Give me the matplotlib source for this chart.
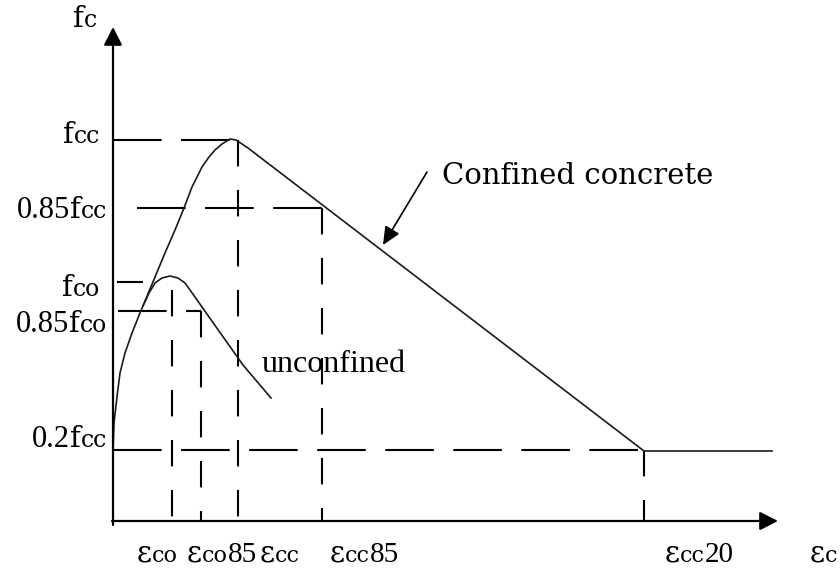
import matplotlib
matplotlib.use('Agg')
import matplotlib.pyplot as plt
from matplotlib.offsetbox import TextArea, HPacker, AnnotationBbox

plt.rcParams['lines.scale_dashes'] = False

# confined concrete curve (strain, stress) in drawing units
conf_strain = [0, 0, 1, 4, 7, 12, 19, 27, 32, 42, 52, 62, 71, 79, 89, 96, 102, 109, 117,
               123, 129, 135, 531, 659]
conf_stress = [0, 71, 98, 124, 148, 168, 188, 208, 220, 244, 268, 291, 313, 334, 354, 364, 371, 377, 382,
               381, 377, 373, 70, 70]

# unconfined concrete curve
unconf_strain = [30, 36, 42, 49, 57, 65, 72, 77, 82, 89, 130, 158]
unconf_stress = [215, 228, 238, 243, 245, 243, 238, 231, 224, 214, 156, 123]

# stress levels: fcc, 0.85fcc, fco, 0.85fco, 0.2fcc
f_cc = 381
f_cc85 = 313
f_co = 239
f_co85 = 210
f_cc20 = 71

# strain levels: eco, eco85, ecc, ecc85, ecc20
e_co = 59
e_co85 = 88
e_cc = 125
e_cc85 = 209
e_cc20 = 531

# horizontal dashed lines (stress, from strain, to strain)
h_lines = [(f_cc, 0, 117), (f_cc85, 24, e_cc85), (f_co, 4, 30), (f_co85, 5, e_co85), (f_cc20, 0, e_cc20)]
# vertical dashed lines (strain, top stress)
v_lines = [(e_co, 231), (e_co85, f_co85), (e_cc, f_cc), (e_cc85, f_cc85), (e_cc20, f_cc20)]

DV = 'DejaVu Serif'
LS = 'Liberation Serif'

fig = plt.figure(figsize=(8.4, 5.69), dpi=100)
ax = fig.add_axes([0, 0, 1, 1])
ax.set_xlim(-113, 727)
ax.set_ylim(-48, 521)
ax.axis('off')

# axes with arrows
arrow = dict(arrowstyle='-|>,head_length=0.55,head_width=0.28', mutation_scale=20,
             color='black', lw=1.6, shrinkA=0, shrinkB=0)
ax.annotate('', xy=(0, 494), xytext=(0, -4), arrowprops=arrow)
ax.annotate('', xy=(665, 0), xytext=(-1, 0), arrowprops=arrow)

for s, x0, x1 in h_lines:
    ax.plot([x0, x1], [s, s], color='black', lw=1.5, dashes=(35, 14))
for e, top in v_lines:
    ax.plot([e, e], [top, 0], color='black', lw=1.5, dashes=(19, 17))

ax.plot(conf_strain, conf_stress, color='#1a1a1a', lw=1.2)
ax.plot(unconf_strain, unconf_stress, color='#1a1a1a', lw=1.2)


def label(x, y, parts, align):
    boxes = [TextArea(s, textprops=dict(family=fam, size=sz, color='black')) for s, fam, sz in parts]
    pack = HPacker(children=boxes, align='baseline', pad=0, sep=0)
    ab = AnnotationBbox(pack, (x, y), xycoords='data', box_alignment=(align, 0),
                        frameon=False, pad=0)
    ax.add_artist(ab)


def f_label(num, sub):
    parts = []
    if num:
        parts.append((num, LS, 22))
    parts.append(('f', DV, 21))
    parts.append((sub, DV, 17))
    return parts


def e_label(sub, num=''):
    parts = [('ε', DV, 21), (sub, DV, 16)]
    if num:
        parts.append((num, LS, 21))
    return parts


label(-40, 488, f_label('', 'c'), 0)
label(-13, 372, f_label('', 'cc'), 1)
label(-6, 296, f_label('0.85', 'cc'), 1)
label(-13, 219, f_label('', 'co'), 1)
label(-6, 182, f_label('0.85', 'co'), 1)
label(-6, 67, f_label('0.2', 'cc'), 1)

label(24, -47, e_label('co'), 0)
label(74, -47, e_label('co', '85'), 0)
label(147, -47, e_label('cc'), 0)
label(217, -47, e_label('cc', '85'), 0)
label(552, -47, e_label('cc', '20'), 0)
label(724, -47, e_label('c'), 1)

ax.text(149, 149, 'unconfined', family=LS, size=23, va='baseline')
ax.text(329, 337, 'Confined concrete', family=DV, size=21, va='baseline')
ax.annotate('', xy=(270, 276), xytext=(314, 349),
            arrowprops=dict(arrowstyle='-|>,head_length=0.55,head_width=0.25', mutation_scale=20,
                            color='black', lw=1.2, shrinkA=0, shrinkB=0))

fig.savefig('out.png', dpi=100)
